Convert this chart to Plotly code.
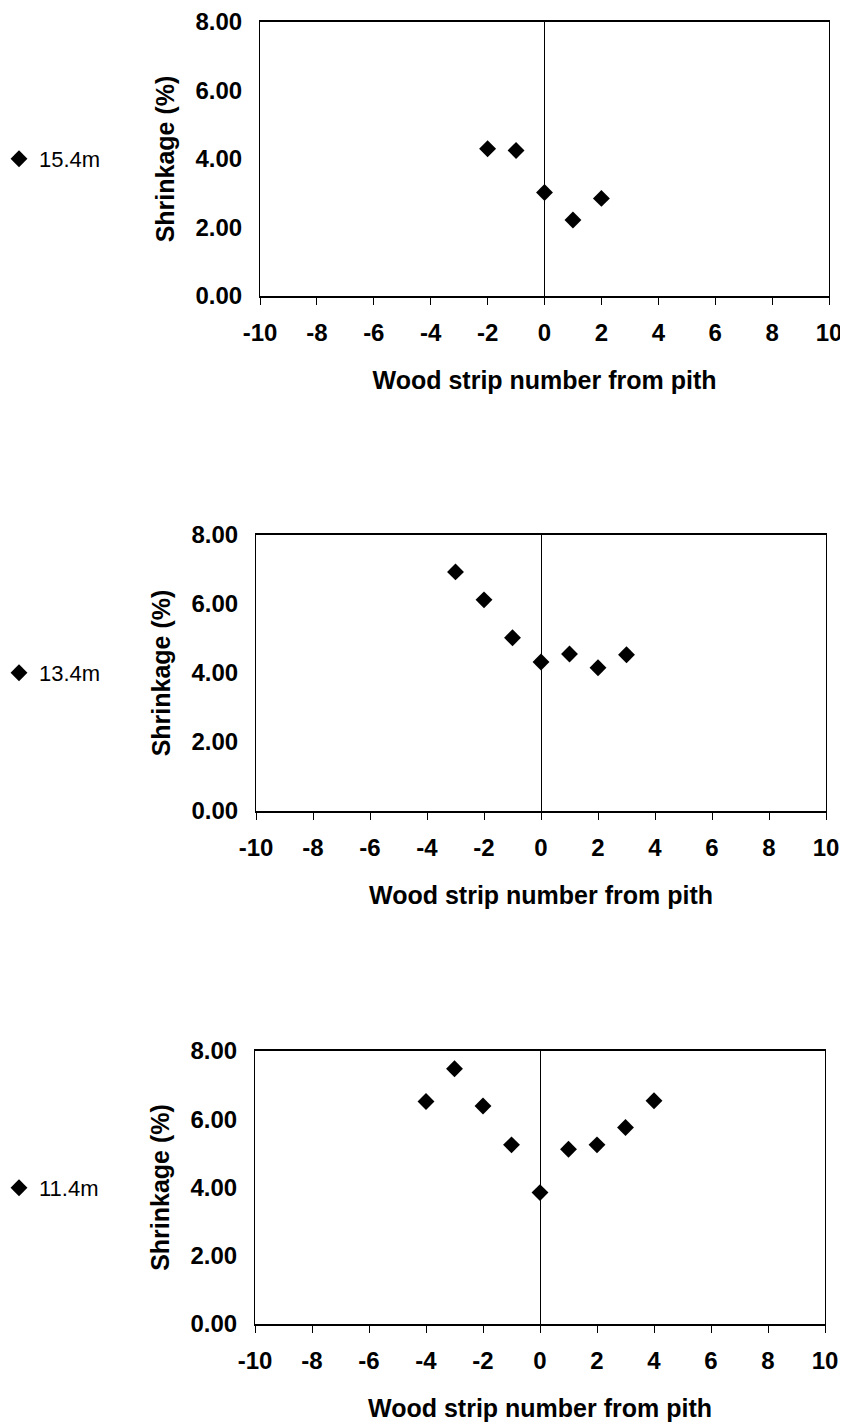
import plotly.graph_objects as go

# ---- data ----
heights = ["15.4m", "13.4m", "11.4m"]
strips_154 = [-2, -1, 0, 1, 2]
shrink_154 = [4.30, 4.25, 3.02, 2.22, 2.85]
strips_134 = [-3, -2, -1, 0, 1, 2, 3]
shrink_134 = [6.93, 6.12, 5.02, 4.32, 4.55, 4.15, 4.53]
strips_114 = [-4, -3, -2, -1, 0, 1, 2, 3, 4]
shrink_114 = [6.52, 7.48, 6.39, 5.25, 3.85, 5.12, 5.25, 5.76, 6.54]
x_ticks = [-10, -8, -6, -4, -2, 0, 2, 4, 6, 8, 10]
x_tick_labels = ["-10", "-8", "-6", "-4", "-2", "0", "2", "4", "6", "8", "10"]
y_ticks = [0, 2, 4, 6, 8]
y_tick_labels = ["0.00", "2.00", "4.00", "6.00", "8.00"]
x_title = "Wood strip number from pith"
y_title = "Shrinkage (%)"

series = [(strips_154, shrink_154), (strips_134, shrink_134), (strips_114, shrink_114)]

# the page body adds an 8px margin, so the figure covers 840x1416
OFF = 8
W, H = 848 - OFF, 1424 - OFF
# plot boxes in page pixels: (left, right, top, bottom)
boxes = [(260, 829, 22, 296), (256, 826, 535, 811), (255, 825, 1051, 1324)]
legend_y = [159, 673, 1188]
legend_x = -1  # page pixel of the legend's left edge

FONT = "Liberation Sans, Arial, sans-serif"
fig = go.Figure()
layout = dict(
    width=W, height=H,
    margin=dict(l=0, r=0, t=0, b=0, autoexpand=False),
    paper_bgcolor="white", plot_bgcolor="white",
    font=dict(family=FONT, color="black"),
)

for i, ((xs, ys), name, (l, r, t, b), ly) in enumerate(zip(series, heights, boxes, legend_y)):
    n = i + 1
    xa = "x" if n == 1 else f"x{n}"
    ya = "y" if n == 1 else f"y{n}"
    leg = "legend" if n == 1 else f"legend{n}"
    fig.add_trace(go.Scatter(
        x=xs, y=ys, mode="markers", name=name,
        marker=dict(symbol="diamond", size=13, color="black"),
        xaxis=xa, yaxis=ya, legend=leg, showlegend=True,
    ))
    xdom = [(l - OFF) / W, (r - OFF) / W]
    ydom = [1 - (b - OFF) / H, 1 - (t - OFF) / H]
    xkey = "xaxis" if n == 1 else f"xaxis{n}"
    ykey = "yaxis" if n == 1 else f"yaxis{n}"
    layout[xkey] = dict(
        domain=xdom, anchor=ya, range=[-10, 10], automargin=False,
        tickvals=x_ticks, ticktext=x_tick_labels,
        ticks="outside", ticklen=7, tickwidth=1, tickcolor="black",
        ticklabelstandoff=7,
        tickfont=dict(family=FONT, size=24, weight="bold", color="black"),
        showline=True, linecolor="black", linewidth=1.5, mirror=True,
        showgrid=False, zeroline=True, zerolinecolor="black", zerolinewidth=1,
        title=dict(text=x_title, standoff=27,
                   font=dict(family=FONT, size=25, weight="bold", color="black")),
        fixedrange=True,
    )
    layout[ykey] = dict(
        domain=ydom, anchor=xa, range=[0, 8], automargin=False,
        tickvals=y_ticks, ticktext=y_tick_labels, ticks="",
        ticklabelstandoff=12,
        tickfont=dict(family=FONT, size=24, weight="bold", color="black"),
        showline=True, linecolor="black", linewidth=1, mirror=True,
        showgrid=False, zeroline=False,
        title=dict(text=y_title, standoff=13,
                   font=dict(family=FONT, size=25, weight="bold", color="black")),
        fixedrange=True,
    )
    # tick marks on the vertical axis crossing at x = 0
    ov = 3 + n
    frac = (0 - (-10)) / (10 - (-10))
    layout[f"yaxis{ov}"] = dict(
        domain=ydom, overlaying=ya, anchor="free", automargin=False,
        position=xdom[0] + frac * (xdom[1] - xdom[0]),
        range=[0, 8], tickvals=y_ticks, ticks="outside", ticklen=7, tickwidth=1,
        tickcolor="black", showticklabels=False, showline=False,
        showgrid=False, zeroline=False, fixedrange=True,
    )
    layout[leg] = dict(
        x=(legend_x - OFF) / W, xanchor="left", y=1 - (ly - OFF) / H, yanchor="middle",
        bgcolor="rgba(0,0,0,0)", borderwidth=0, itemwidth=30,
        font=dict(family=FONT, size=22, color="black"),
    )

fig.update_layout(**layout)
fig.write_html("out.html")
